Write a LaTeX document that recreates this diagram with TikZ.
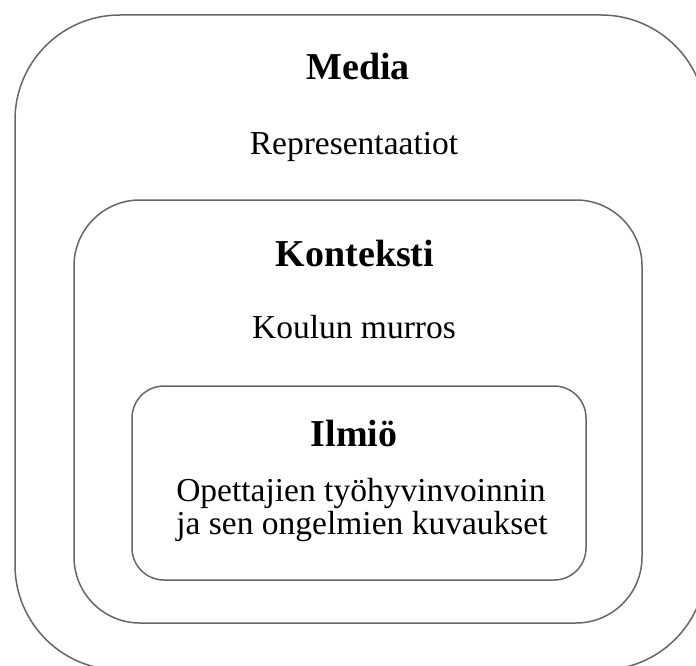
\documentclass[tikz,border=0pt]{standalone}
\usepackage{fontspec}
\setmainfont{Liberation Serif}
\begin{document}
\begin{tikzpicture}[x=1pt,y=-1pt,
  frame/.style={draw=black!60,line width=1.5pt},
  head/.style={anchor=base,inner sep=0pt,font=\fontsize{38}{40}\selectfont\bfseries},
  body/.style={anchor=base,inner sep=0pt,font=\fontsize{33.5}{36}\selectfont}]
\useasboundingbox (0,0) rectangle (696,666);
\clip (0,0) rectangle (696,666);
\draw[frame,rounded corners=105pt] (15,400) -- (15,15) -- (706,15) -- (706,670) -- (15,670) -- cycle;
\draw[frame,rounded corners=66pt] (74,400) -- (74,200) -- (642,200) -- (642,623) -- (74,623) -- cycle;
\draw[frame,rounded corners=32pt] (132,480) -- (132,386) -- (586,386) -- (586,580) -- (132,580) -- cycle;
\node[head] (media) at (358,80) {Media};
\node[body] (repr) at (354,154) {Representaatiot};
\node[head] (konteksti) at (355,266) {Konteksti};
\node[body] (koulu) at (354,338) {Koulun murros};
\node[head] (ilmio) at (354,446) {Ilmiö};
\node[body] (l1) at (361,501) {Opettajien työhyvinvoinnin};
\node[body] (l2) at (362,534) {ja sen ongelmien kuvaukset};
\end{tikzpicture}
\end{document}
